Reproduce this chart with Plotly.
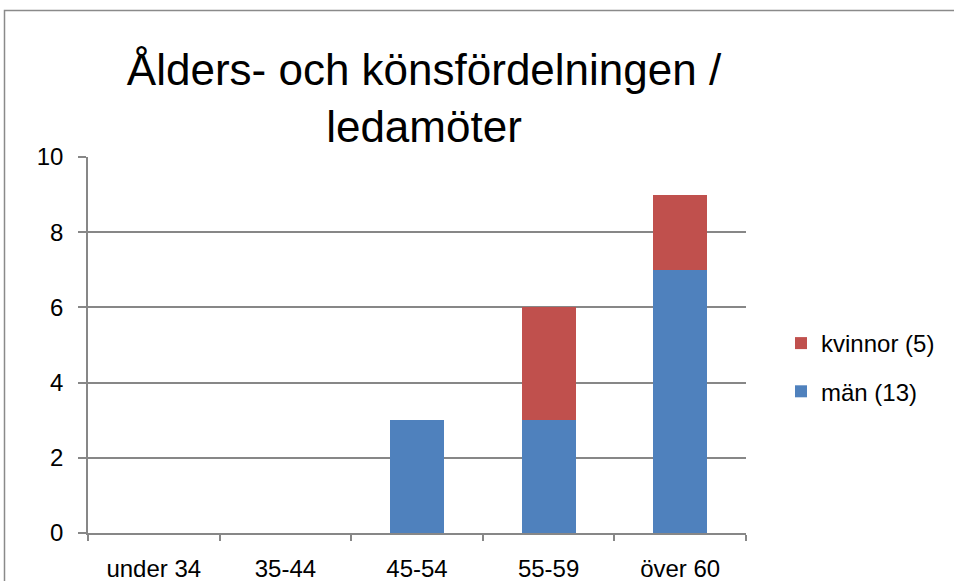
import plotly.graph_objects as go

categories = ["under 34", "35-44", "45-54", "55-59", "över 60"]
man = [0, 0, 3, 3, 7]
kvinnor = [0, 0, 0, 3, 2]
series_names = ["män (13)", "kvinnor (5)"]

W, H = 954, 581
L, R, T, B = 88, 746, 157, 533  # plot area in px

GRID = "#878787"
TXT = "#000000"
FONT = "Liberation Sans, Arial, sans-serif"

fig = go.Figure()
fig.add_trace(go.Bar(x=categories, y=man, name=series_names[0],
                     marker=dict(color="#4F81BD", line=dict(width=0)),
                     legendgroup="m", legendrank=2))
fig.add_trace(go.Bar(x=categories, y=kvinnor, name=series_names[1],
                     marker=dict(color="#C0504D", line=dict(width=0)),
                     legendgroup="k", legendrank=1))


def px_x(p):
    return (p - L) / (R - L)


def px_y(p):
    return (B - p) / (B - T)


fig.update_layout(
    width=W, height=H,
    margin=dict(l=L, r=W - R, t=T, b=H - B, pad=0),
    paper_bgcolor="white", plot_bgcolor="white",
    barmode="stack", bargap=0.59,
    font=dict(family=FONT, size=24, color=TXT),
    title=dict(
        text="Ålders- och könsfördelningen /<br>ledamöter",
        x=424 / W, xanchor="center", xref="container",
        y=1 - 85 / H, yanchor="top", yref="container",
        font=dict(family=FONT, size=44, color=TXT),
    ),
    legend=dict(
        x=px_x(781), xanchor="left", y=px_y(321), yanchor="top",
        traceorder="grouped", tracegroupgap=14,
        font=dict(size=24), bgcolor="rgba(0,0,0,0)",
    ),
    xaxis=dict(
        showline=True, linecolor=GRID, linewidth=1.5, automargin=False,
        ticks="outside", tickson="boundaries", ticklen=6, tickcolor=GRID,
        tickwidth=1.5, ticklabelstandoff=13, showgrid=False, fixedrange=True,
    ),
    yaxis=dict(
        range=[0, 10], dtick=2, showline=True, linecolor=GRID, linewidth=1.5,
        showgrid=True, gridcolor=GRID, gridwidth=1.5, zeroline=False,
        automargin=False,
        ticks="outside", ticklen=8, tickcolor=GRID, tickwidth=1.5,
        ticklabelstandoff=10, fixedrange=True,
    ),
    shapes=[dict(
        type="rect", xref="paper", yref="paper",
        x0=px_x(4.5), x1=px_x(W + 20), y0=px_y(H + 20), y1=px_y(10.5),
        line=dict(color="#8a8a8a", width=1.5), layer="below",
    )],
)

fig.write_html("out.html", config={"displayModeBar": False},
               post_script="document.body.style.margin='0';")
